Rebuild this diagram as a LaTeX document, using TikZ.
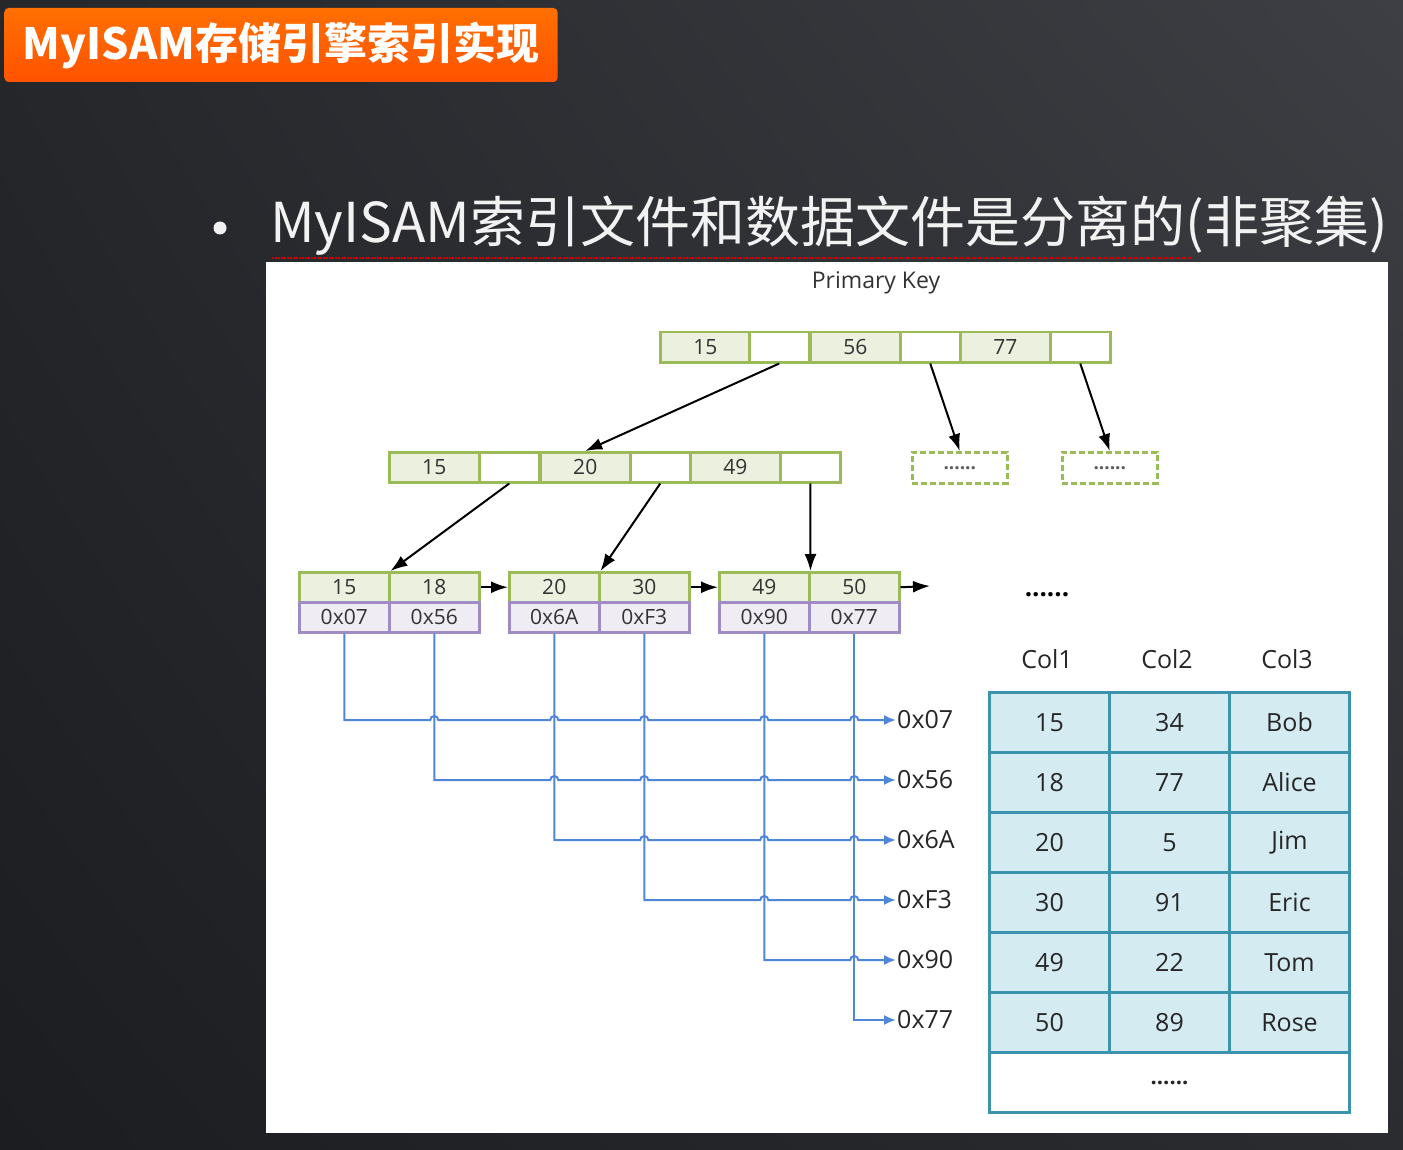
\documentclass[tikz,border=0pt]{standalone}
\usepackage{fontspec}
\setmainfont{Open Sans}
\newfontfamily\cjk{Noto Sans CJK SC}
\usetikzlibrary{arrows.meta,calc,shadings}
\definecolor{bgA}{HTML}{26272B}
\definecolor{bgB}{HTML}{3E3F44}
\definecolor{bgC}{HTML}{1C1D21}
\definecolor{bgD}{HTML}{2B2C30}
\definecolor{orangeA}{HTML}{FF6F00}
\definecolor{orangeB}{HTML}{FF5300}
\definecolor{keyfill}{HTML}{EBF1DE}
\definecolor{keydraw}{HTML}{9BBB59}
\definecolor{ptrfill}{HTML}{EFECF4}
\definecolor{ptrdraw}{HTML}{A08CC4}
\definecolor{hexblue}{HTML}{4F86D8}
\definecolor{tabfill}{HTML}{D4EBF1}
\definecolor{tabdraw}{HTML}{3B93AD}
\definecolor{txt}{HTML}{333333}
\tikzset{
  cell/.style={draw=keydraw, line width=2.5pt, minimum height=30pt, inner sep=0pt,
    font=\fontsize{21}{24}\selectfont, text=txt, anchor=north west},
  keycell/.style={cell, fill=keyfill, minimum width=90pt},
  nilcell/.style={cell, fill=white, minimum width=60pt},
  addrcell/.style={cell, draw=ptrdraw, fill=ptrfill, minimum width=90pt},
  dashbox/.style={draw=keydraw, line width=2.5pt, dash pattern=on 6pt off 3pt, minimum width=95pt,
    minimum height=31pt, anchor=north west, inner sep=0pt, font=\bfseries\fontsize{19}{20}\selectfont, text=txt!80},
  blk/.style={line width=2pt, -{Latex[length=17pt,width=12pt]}},
  blueline/.style={draw=hexblue, line width=2pt, -{Latex[length=12pt,width=10pt]}},
  addrlabel/.style={anchor=west, inner sep=1pt, font=\fontsize{25}{28}\selectfont, text=black!85},
  tabcell/.style={draw=tabdraw, line width=3pt, fill=tabfill, minimum width=120pt, minimum height=60pt,
    anchor=north west, inner sep=0pt, font=\fontsize{25}{28}\selectfont, text=black!85},
  tabhead/.style={font=\fontsize{25}{28}\selectfont, text=black!85, inner sep=0pt},
}
\begin{document}
\begin{tikzpicture}[x=1pt,y=-1pt]
\useasboundingbox (0,0) rectangle (1403,1150);
\shade[upper left=bgA, upper right=bgB, lower left=bgC, lower right=bgD] (0,0) rectangle (1403,1150);
% title
\node[top color=orangeA, bottom color=orangeB, rounded corners=4pt, minimum width=553pt, minimum height=74pt,
  inner sep=0pt, text=white, font=\cjk\bfseries\fontsize{43}{47}\selectfont] (title) at (281,45) {MyISAM存储引擎索引实现};
% heading
\node[circle, fill=white!95!black, minimum size=13pt, inner sep=0pt] (bul) at (220,228) {};
\node[anchor=west, text=white!95!black, font=\cjk\fontsize{55}{60}\selectfont, inner sep=0pt] (head) at (270,226) {MyISAM索引文件和数据文件是分离的(非聚集)};
\fill[white] (266,262) rectangle (1388,1133);
\draw[red!80!black, line width=1.2pt, dash pattern=on 1.5pt off 1.5pt] (272,258) -- (1192,258);
\node[font=\fontsize{23}{26}\selectfont, text=txt, inner sep=0pt] (pk) at (876,283) {Primary Key};
% root
\node[keycell] (r1) at (659,331) {15};
\node[nilcell] (r2) at (748,331) {};
\node[keycell] (r3) at (809,331) {56};
\node[nilcell] (r4) at (899,331) {};
\node[keycell] (r5) at (959,331) {77};
\node[nilcell] (r6) at (1049,331) {};
% level 2
\node[keycell] (m1) at (388,451) {15};
\node[nilcell] (m2) at (478,451) {};
\node[keycell] (m3) at (539,451) {20};
\node[nilcell] (m4) at (629,451) {};
\node[keycell] (m5) at (689,451) {49};
\node[nilcell] (m6) at (779,451) {};
\node[dashbox] (d1) at (911,451) {......};
\node[dashbox] (d2) at (1061,451) {......};
% leaves
\node[keycell] (l1) at (298,571) {15};
\node[keycell] (l2) at (388,571) {18};
\node[keycell] (l3) at (508,571) {20};
\node[keycell] (l4) at (598,571) {30};
\node[keycell] (l5) at (718,571) {49};
\node[keycell] (l6) at (808,571) {50};
\node[addrcell] (p1) at (298,601) {0x07};
\node[addrcell] (p2) at (388,601) {0x56};
\node[addrcell] (p3) at (508,601) {0x6A};
\node[addrcell] (p4) at (598,601) {0xF3};
\node[addrcell] (p5) at (718,601) {0x90};
\node[addrcell] (p6) at (808,601) {0x77};
\coordinate (nx) at (930,586);
\node[font=\bfseries\fontsize{26}{28}\selectfont, inner sep=0pt] (dots) at (1047,595) {......};
% tree arrows
\draw[blk] (r2.south) -- (m3.north);
\draw[blk] (r4.south) -- (d1.north);
\draw[blk] (r6.south) -- (d2.north);
\draw[blk] (m2.south) -- (l1.north east);
\draw[blk] (m4.south) -- (l3.north east);
\draw[blk] (m6.south) -- (l5.north east);
\draw[blk] (l2.east) -- (l3.west);
\draw[blk] (l4.east) -- (l5.west);
\draw[blk] (l6.east) -- (nx);
% address labels
\node[addrlabel] (a1) at (896,720) {0x07};
\node[addrlabel] (a2) at (896,780) {0x56};
\node[addrlabel] (a3) at (896,840) {0x6A};
\node[addrlabel] (a4) at (896,900) {0xF3};
\node[addrlabel] (a5) at (896,960) {0x90};
\node[addrlabel] (a6) at (896,1020) {0x77};
% blue connectors with hops
\draw[blueline] (p1.south) -- (p1.south |- a1.west)
  -- ([xshift=-4pt]p2.south |- a1.west) arc[start angle=180,end angle=0,radius=4pt]
  -- ([xshift=-4pt]p3.south |- a1.west) arc[start angle=180,end angle=0,radius=4pt]
  -- ([xshift=-4pt]p4.south |- a1.west) arc[start angle=180,end angle=0,radius=4pt]
  -- ([xshift=-4pt]p5.south |- a1.west) arc[start angle=180,end angle=0,radius=4pt]
  -- ([xshift=-4pt]p6.south |- a1.west) arc[start angle=180,end angle=0,radius=4pt]
  -- (a1.west);
\draw[blueline] (p2.south) -- (p2.south |- a2.west)
  -- ([xshift=-4pt]p3.south |- a2.west) arc[start angle=180,end angle=0,radius=4pt]
  -- ([xshift=-4pt]p4.south |- a2.west) arc[start angle=180,end angle=0,radius=4pt]
  -- ([xshift=-4pt]p5.south |- a2.west) arc[start angle=180,end angle=0,radius=4pt]
  -- ([xshift=-4pt]p6.south |- a2.west) arc[start angle=180,end angle=0,radius=4pt]
  -- (a2.west);
\draw[blueline] (p3.south) -- (p3.south |- a3.west)
  -- ([xshift=-4pt]p4.south |- a3.west) arc[start angle=180,end angle=0,radius=4pt]
  -- ([xshift=-4pt]p5.south |- a3.west) arc[start angle=180,end angle=0,radius=4pt]
  -- ([xshift=-4pt]p6.south |- a3.west) arc[start angle=180,end angle=0,radius=4pt]
  -- (a3.west);
\draw[blueline] (p4.south) -- (p4.south |- a4.west)
  -- ([xshift=-4pt]p5.south |- a4.west) arc[start angle=180,end angle=0,radius=4pt]
  -- ([xshift=-4pt]p6.south |- a4.west) arc[start angle=180,end angle=0,radius=4pt]
  -- (a4.west);
\draw[blueline] (p5.south) -- (p5.south |- a5.west)
  -- ([xshift=-4pt]p6.south |- a5.west) arc[start angle=180,end angle=0,radius=4pt]
  -- (a5.west);
\draw[blueline] (p6.south) -- (p6.south |- a6.west) -- (a6.west);
% table
\node[tabhead] (h1) at (1047,659) {Col1};
\node[tabhead] (h2) at (1167,659) {Col2};
\node[tabhead] (h3) at (1287,659) {Col3};
\foreach \r/\a/\b/\c in {1/15/34/Bob, 2/18/77/Alice, 3/20/5/Jim, 4/30/91/Eric, 5/49/22/Tom, 6/50/89/Rose}{
  \node[tabcell] (t\r a) at (988,631+60*\r) {\a};
  \node[tabcell] (t\r b) at (1108,631+60*\r) {\b};
  \node[tabcell] (t\r c) at (1228,631+60*\r) {\c};
}
\node[tabcell, fill=white, minimum width=360pt, font=\bfseries\fontsize{22}{24}\selectfont] (t7) at (988,1051) {......};
\end{tikzpicture}
\end{document}
